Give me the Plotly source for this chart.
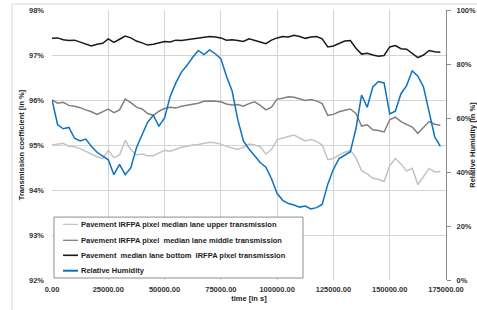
import plotly.graph_objects as go

time_s = [i * 2500 for i in range(70)]

upper = [95.00, 95.02, 95.04, 94.97, 94.96, 94.92, 94.86, 94.80, 94.74, 94.70,
         94.88, 94.72, 94.78, 95.10, 94.90, 94.78, 94.80, 94.76, 94.76, 94.82,
         94.88, 94.86, 94.90, 94.95, 94.97, 95.00, 95.01, 95.04, 95.06, 95.05,
         95.02, 94.97, 94.94, 94.90, 94.95, 95.02, 95.00, 94.96, 94.80, 94.90,
         95.12, 95.16, 95.19, 95.22, 95.15, 95.09, 95.12, 95.08, 95.00, 94.68,
         94.70, 94.78, 94.84, 94.88, 94.72, 94.43, 94.36, 94.26, 94.24, 94.19,
         94.54, 94.70, 94.58, 94.42, 94.48, 94.12, 94.30, 94.48, 94.40, 94.41]

middle = [96.00, 95.93, 95.95, 95.88, 95.86, 95.83, 95.78, 95.74, 95.68, 95.74,
          95.80, 95.72, 95.78, 96.02, 95.94, 95.84, 95.80, 95.70, 95.66, 95.75,
          95.81, 95.84, 95.82, 95.86, 95.88, 95.91, 95.93, 95.97, 95.98, 95.97,
          95.96, 95.91, 95.89, 95.90, 95.86, 95.92, 95.96, 95.88, 95.78, 95.84,
          96.02, 96.04, 96.07, 96.06, 96.03, 95.99, 96.01, 95.98, 95.92, 95.66,
          95.68, 95.74, 95.77, 95.80, 95.70, 95.42, 95.45, 95.34, 95.32, 95.29,
          95.56, 95.62, 95.52, 95.46, 95.40, 95.26, 95.38, 95.52, 95.46, 95.44]

bottom = [97.37, 97.38, 97.34, 97.32, 97.33, 97.29, 97.25, 97.20, 97.24, 97.26,
          97.36, 97.28, 97.35, 97.42, 97.38, 97.31, 97.27, 97.22, 97.24, 97.27,
          97.30, 97.29, 97.33, 97.32, 97.34, 97.36, 97.37, 97.40, 97.41, 97.40,
          97.38, 97.33, 97.34, 97.32, 97.30, 97.36, 97.33, 97.29, 97.25, 97.33,
          97.38, 97.41, 97.40, 97.44, 97.41, 97.37, 97.40, 97.41, 97.36, 97.18,
          97.20, 97.25, 97.31, 97.32, 97.15, 97.02, 97.04, 97.00, 96.97, 96.99,
          97.18, 97.21, 97.14, 97.13, 97.04, 96.94, 97.00, 97.10, 97.07, 97.06]

humidity = [66.7, 57.5, 56.0, 56.5, 52.5, 51.5, 52.2, 49.5, 47.3, 45.8,
            44.5, 39.0, 42.8, 39.0, 41.5, 49.0, 53.5, 58.5, 61.0, 57.0,
            60.0, 68.0, 73.0, 77.0, 79.5, 82.5, 85.0, 83.5, 85.2, 83.8,
            82.0, 75.5, 70.0, 59.5, 51.5, 48.5, 46.0, 43.5, 41.8, 37.5,
            32.0, 29.5, 28.3, 27.8, 27.0, 27.4, 26.3, 26.8, 28.0, 35.5,
            41.0, 45.0, 46.2, 47.5, 56.0, 68.5, 64.0, 71.5, 73.5, 73.0,
            61.5, 62.5, 69.0, 72.0, 77.5, 75.5, 71.5, 62.0, 53.0, 49.5]

names = ["Pavement IRFPA pixel median lane upper transmission",
         "Pavement IRFPA pixel  median lane middle transmission",
         "Pavement  median lane bottom  IRFPA pixel transmission",
         "Relative Humidity"]
colors = ["#c3c3c3", "#808080", "#1a1a1a", "#0a72c4"]

x_ticks = [0, 25000, 50000, 75000, 100000, 125000, 150000, 175000]
left_ticks = [92, 93, 94, 95, 96, 97, 98]
right_ticks = [0, 20, 40, 60, 80, 100]

FONT = "Liberation Sans"
LW = 1.5
fig = go.Figure()
series = [upper, middle, bottom, humidity]
for k, s in enumerate(series):
    fig.add_trace(go.Scatter(x=time_s, y=s, name=names[k], mode="lines",
                             yaxis="y2" if k == 3 else "y",
                             line=dict(color=colors[k], width=LW),
                             showlegend=False))

tick_font = dict(size=7.5, weight="bold", color="#333333")
title_font = dict(size=7.5, weight="bold", color="#222222")

fig.update_layout(
    width=477, height=310,
    margin=dict(l=52, r=31, t=10, b=30, autoexpand=False),
    paper_bgcolor="white", plot_bgcolor="white",
    font=dict(family=FONT, size=7.5, color="#333333"),
    showlegend=False,
    xaxis=dict(range=[0, 175000], tickvals=x_ticks, automargin=False,
               ticktext=[f"{v:.2f}" for v in x_ticks],
               showgrid=True, gridcolor="#d4d4d4", gridwidth=1,
               zeroline=False, showline=False, ticks="",
               ticklabelstandoff=3,
               tickfont=tick_font,
               title=dict(text="time [in s]", standoff=2, font=title_font)),
    yaxis=dict(range=[92, 98], tickvals=left_ticks, automargin=False,
               ticktext=[f"{v}%" for v in left_ticks],
               showgrid=True, gridcolor="#d4d4d4", gridwidth=1,
               zeroline=False, showline=False, ticks="",
               ticklabelstandoff=7,
               tickfont=tick_font,
               title=dict(text="Transmission coefficient [in %]", standoff=3,
                          font=title_font)),
    yaxis2=dict(range=[0, 100], tickvals=right_ticks, automargin=False,
                ticktext=[f"{v}%" for v in right_ticks],
                overlaying="y", side="right", showgrid=False, zeroline=False,
                showline=True, linecolor="#8c8c8c", linewidth=1,
                ticks="outside", ticklen=4, tickcolor="#8c8c8c",
                ticklabelstandoff=4,
                tickfont=tick_font,
                title=dict(text="Relative Humidity [in %]", standoff=6,
                           font=title_font)),
)

# outer chart-area border (left and top edges visible)
fig.add_shape(type="line", xref="paper", yref="paper", x0=-0.1015, x1=1.2,
              y0=1.022, y1=1.022, line=dict(color="#d9d9d9", width=1))
fig.add_shape(type="line", xref="paper", yref="paper", x0=-0.1015, x1=-0.1015,
              y0=1.022, y1=-0.2, line=dict(color="#d9d9d9", width=1))

# legend box drawn inside the plot area
fig.add_shape(type="rect", xref="paper", yref="paper", x0=0.005, x1=0.637,
              y0=0.0074, y1=0.233, fillcolor="white",
              line=dict(color="#8c8c8c", width=1), layer="above")
legend_y = [0.206, 0.147, 0.0915, 0.0344]
legend_w = [1.2, 1.3, 1.6, 2.0]
for k in range(4):
    fig.add_shape(type="line", xref="paper", yref="paper", x0=0.028, x1=0.066,
                  y0=legend_y[k], y1=legend_y[k],
                  line=dict(color=colors[k], width=legend_w[k]), layer="above")
    fig.add_annotation(xref="paper", yref="paper", x=0.068, y=legend_y[k],
                       xanchor="left", yanchor="middle", showarrow=False,
                       text=names[k].replace("  ", "&nbsp; "),
                       font=dict(family=FONT, size=7.5, weight="bold",
                                 color="#222222"))

fig.write_html("out.html",
               config={"displayModeBar": False},
               post_script="document.body.style.margin='0';"
                           "document.body.style.overflow='hidden';")
